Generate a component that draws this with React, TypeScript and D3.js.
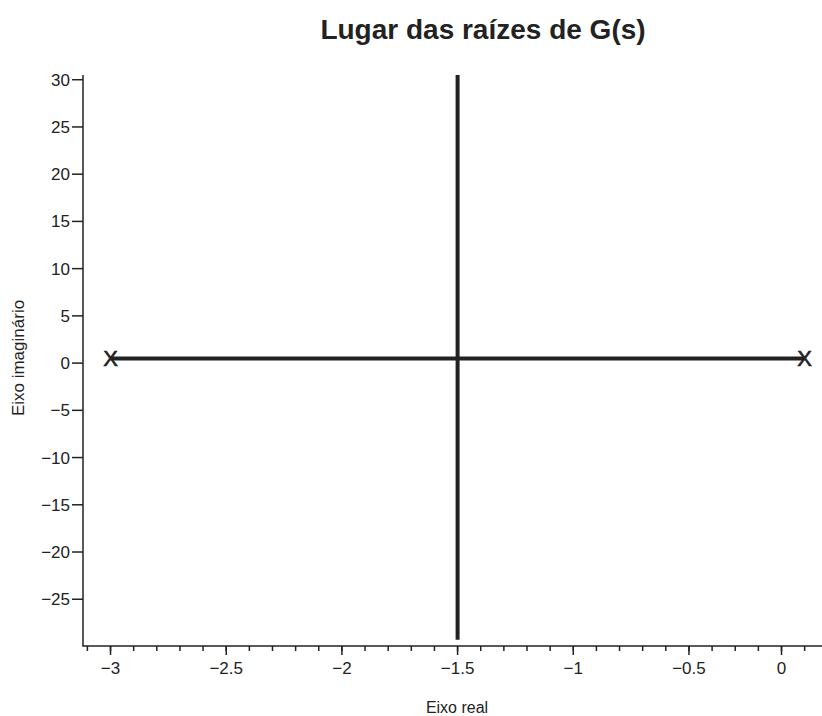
import React from "react";
import * as d3 from "d3";

const W = 822;
const H = 716;

const title = "Lugar das raízes de G(s)";
const xLabel = "Eixo real";
const yLabel = "Eixo imaginário";

// pole locations (real, imaginary)
const poleRe = [-3, 0];
const poleIm = [0.5, 0.5];

// root-locus branches
const branchReal = [
  [-3, 0.5],
  [0, 0.5],
];
const branchVertical = [
  [-1.5, 30.5],
  [-1.5, -29.3],
];

const xTickValues = [-3, -2.5, -2, -1.5, -1, -0.5, -0.1];
const xTickLabels = ["−3", "−2.5", "−2", "−1.5", "−1", "−0.5", "0"];
const xMinorTicks = d3.range(-31, 1).map((i) => i / 10);

const yTickValues = [30, 25, 20, 15, 10, 5, 0, -5, -10, -15, -20, -25];
const yTickLabels = ["30", "25", "20", "15", "10", "5", "0", "−5", "−10", "−15", "−20", "−25"];

const xDomain = [-3.119, 0.075];
const yDomain = [-29.95, 30.5];

export default function App() {
  const left = 83;
  const right = 822;
  const top = 75;
  const bottom = 646;
  const x = d3.scaleLinear().domain(xDomain).range([left, right]);
  const y = d3.scaleLinear().domain(yDomain).range([bottom, top]);
  const line = d3
    .line<number[]>()
    .x((d) => x(d[0]))
    .y((d) => y(d[1]));
  const ink = "#222";
  const font = "Liberation Sans, Arial, Helvetica, sans-serif";

  return (
    <svg
      width={W}
      height={H}
      style={{ position: "absolute", left: 0, top: 0, background: "#fff" }}
      fontFamily={font}
    >
      <rect width={W} height={H} fill="#fff" />
      <text x={483} y={39} textAnchor="middle" fontSize={28} fontWeight="bold" fill={ink}>
        {title}
      </text>

      {/* branches */}
      <path d={line(branchVertical) || ""} stroke={ink} strokeWidth={4} fill="none" />
      <path d={line(branchReal) || ""} stroke={ink} strokeWidth={4} fill="none" />

      {/* poles */}
      {poleRe.map((re, i) => (
        <text
          key={i}
          x={x(re)}
          y={y(poleIm[i])}
          dy="0.36em"
          textAnchor="middle"
          fontSize={22}
          fill={ink}
          stroke={ink}
          strokeWidth={0.6}
        >
          X
        </text>
      ))}

      {/* axes */}
      <line x1={left} x2={left} y1={top} y2={bottom} stroke={ink} strokeWidth={1.5} />
      <line x1={left - 0.75} x2={right} y1={bottom} y2={bottom} stroke={ink} strokeWidth={1.5} />

      {yTickValues.map((v, i) => (
        <g key={"y" + i}>
          <line x1={left - 11} x2={left} y1={y(v)} y2={y(v)} stroke={ink} strokeWidth={1.5} />
          <text x={left - 13} y={y(v)} dy="0.35em" textAnchor="end" fontSize={17} fill={ink}>
            {yTickLabels[i]}
          </text>
        </g>
      ))}

      {xMinorTicks.map((v, i) => (
        <line
          key={"m" + i}
          x1={x(v)}
          x2={x(v)}
          y1={bottom}
          y2={bottom + 5}
          stroke={ink}
          strokeWidth={1.5}
        />
      ))}
      {xTickValues.map((v, i) => (
        <g key={"x" + i}>
          <line x1={x(v)} x2={x(v)} y1={bottom} y2={bottom + 9} stroke={ink} strokeWidth={1.5} />
          <text x={x(v)} y={674} textAnchor="middle" fontSize={17} fill={ink}>
            {xTickLabels[i]}
          </text>
        </g>
      ))}

      <text x={457} y={713} textAnchor="middle" fontSize={16} fill={ink}>
        {xLabel}
      </text>
      <text
        transform={`translate(24, ${358}) rotate(-90)`}
        textAnchor="middle"
        fontSize={17}
        fill={ink}
      >
        {yLabel}
      </text>
    </svg>
  );
}
